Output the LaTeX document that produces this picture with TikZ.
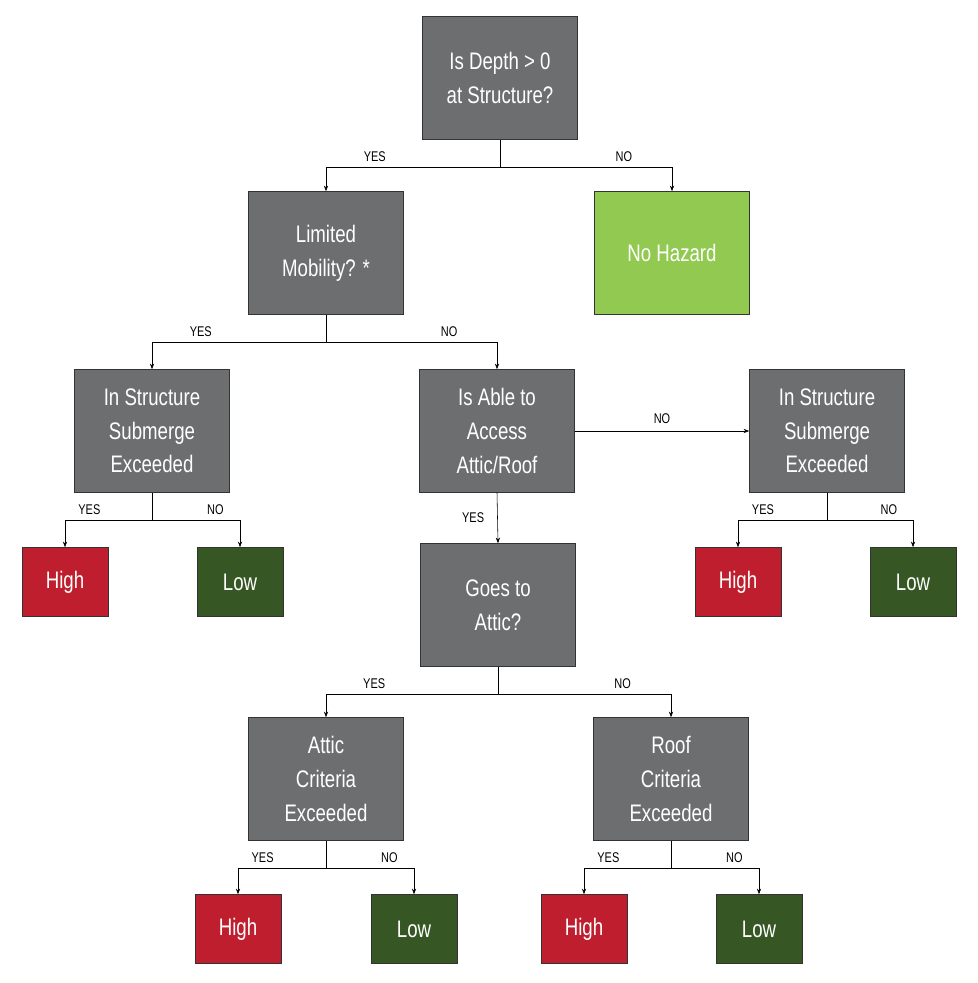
\documentclass[tikz,border=0pt]{standalone}
\usepackage{fontspec}
\setsansfont{Liberation Sans}[FakeStretch=0.78]
\usepackage{tikz}
\usetikzlibrary{arrows.meta}

\definecolor{boxgray}{HTML}{6D6E70}
\definecolor{nohaz}{HTML}{92C951}
\definecolor{hired}{HTML}{BE1E2D}
\definecolor{lowgreen}{HTML}{365624}

\tikzset{
	q/.style={draw=black!80,fill=boxgray,text=white,minimum width=3.875cm,minimum height=3.075cm,
		align=center,font=\sffamily\fontsize{17}{24}\selectfont,inner sep=0pt},
	res/.style={draw=black!80,text=white,minimum width=2.15cm,minimum height=1.725cm,
		font=\sffamily\fontsize{17}{20}\selectfont,inner sep=0pt},
	lbl/.style={font=\sffamily\fontsize{10}{12}\selectfont},
	arr/.style={-{Stealth[length=4pt,width=3pt]},thin},
}

\begin{document}
\begin{tikzpicture}[x=0.025cm,y=-0.025cm]
	\useasboundingbox (0,0) rectangle (977,983);
	
	% questions
	\node[q] (depth) at (500,78) {Is Depth > 0\\at Structure?};
	\node[q] (mob) at (326,253) {Limited\\Mobility? *};
	\node[q,fill=nohaz] (nohaz) at (672,253) {No Hazard};
	\node[q] (subl) at (152,431) {In Structure\\Submerge\\Exceeded};
	\node[q] (able) at (497,431) {Is Able to\\Access\\Attic/Roof};
	\node[q] (subr) at (827,431) {In Structure\\Submerge\\Exceeded};
	\node[q] (attic) at (498,605) {Goes to\\Attic?};
	\node[q] (crita) at (326,779) {Attic\\Criteria\\Exceeded};
	\node[q] (critr) at (671,779) {Roof\\Criteria\\Exceeded};
	
	% results
	\node[res,fill=hired] (h1) at (65,582) {High};
	\node[res,fill=lowgreen] (l1) at (240,582) {Low};
	\node[res,fill=hired] (h2) at (738,582) {High};
	\node[res,fill=lowgreen] (l2) at (913,582) {Low};
	\node[res,fill=hired] (h3) at (238,929) {High};
	\node[res,fill=lowgreen] (l3) at (414,929) {Low};
	\node[res,fill=hired] (h4) at (584,929) {High};
	\node[res,fill=lowgreen] (l4) at (759,929) {Low};
	
	% yes/no forks
	\foreach \p/\a/\b in {depth/mob/nohaz, mob/subl/able, subl/h1/l1, subr/h2/l2,
		attic/crita/critr, crita/h3/l3, critr/h4/l4}{
		\draw[thin] (\p.south) -- ++(0,27) coordinate (j\p);
		\draw[arr] (j\p) -| (\a.north) node[lbl,pos=0.36,above] {YES};
		\draw[arr] (j\p) -| (\b.north) node[lbl,pos=0.36,above] {NO};
	}
	
	\draw[arr] (able.east) -- (subr.west) node[lbl,midway,above=2pt] {NO};
	\draw[arr] (able.south) -- (attic.north) node[lbl,midway,left=6pt] {YES};
\end{tikzpicture}
\end{document}
